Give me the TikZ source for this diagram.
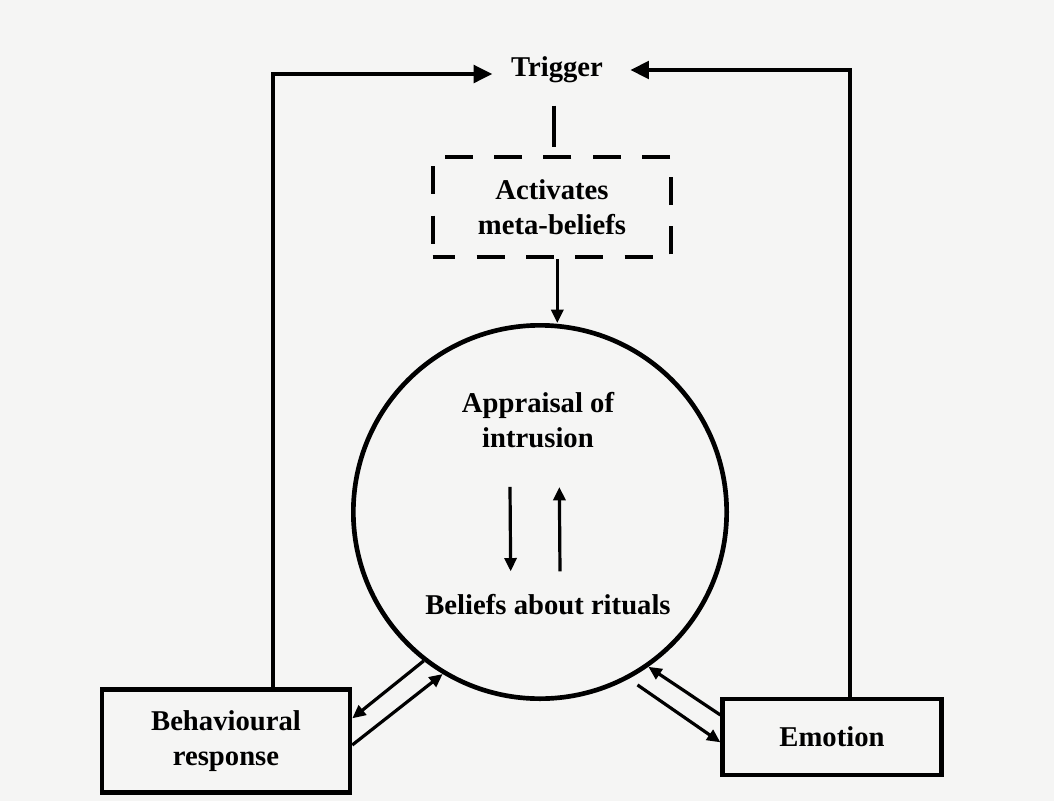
\documentclass[tikz,border=0pt]{standalone}
\usepackage{fontspec}
\setmainfont{Liberation Serif}
\usetikzlibrary{arrows.meta, positioning}
\definecolor{paper}{RGB}{245,245,244}

\begin{document}
\begin{tikzpicture}[
    x=0.75pt, y=-0.75pt,
    txt/.style={font=\bfseries\fontsize{21.5}{26}\selectfont, align=center},
    box/.style={rectangle, draw, line width=3.4pt, txt},
    dashbox/.style={rectangle, draw, line width=3.2pt, dash pattern=on 21pt off 16pt, dash phase=4pt, txt},
    bigcirc/.style={circle, draw, line width=3.5pt, minimum size=280pt, inner sep=0pt},
    arrow/.style={line width=2.4pt, -{Triangle[length=10pt, width=9pt]}},
    bigarrow/.style={line width=3pt, -{Triangle[length=14pt, width=13pt]}}
  ]
    \fill[paper] (0,0) rectangle (1054,801);
    \useasboundingbox (0,0) rectangle (1054,801);

    \node[txt] (trig) at (557,70) {Trigger};
    \node[dashbox, minimum width=179pt, minimum height=75pt] (meta) at (552,207) {Activates\\meta-beliefs};
    \node[bigcirc] (circ) at (540,512) {};
    \node[txt] (appr) at (538,420) {Appraisal of\\intrusion};
    \node[txt] (ritual) at (548,605) {Beliefs about rituals};
    \node[box, minimum width=186pt, minimum height=77pt] (behav) at (226,741) {Behavioural\\response};
    \node[box, minimum width=164pt, minimum height=57pt] (emo) at (832,737) {Emotion};

    % loops back to the trigger
    \draw[bigarrow] ([xshift=35pt]behav.north) |- ([xshift=-10.5pt, yshift=-3pt]trig.west);
    \draw[bigarrow] ([xshift=13.5pt]emo.north) |- ([xshift=17pt, yshift=0pt]trig.east);
    \draw[line width=3pt] ([xshift=1.5pt, yshift=37pt]meta.north) -- ([xshift=1.5pt, yshift=6pt]meta.north);
    \draw[arrow] ([xshift=4pt]meta.south) -- ([xshift=4pt]meta.south |- circ.north);

    % inside the circle
    \draw[arrow] ([xshift=-21pt, yshift=-26pt]appr.south) -- ([xshift=-28pt, yshift=14pt]ritual.north);
    \draw[arrow] ([xshift=9pt, yshift=14pt]ritual.north) -- ([xshift=16pt, yshift=-26pt]appr.south);

    % circle and boxes
    \draw[arrow] (circ.232) -- ([yshift=17pt]behav.east);
    \draw[arrow] ([yshift=-3pt]behav.east) -- (circ.239);
    \draw[arrow] ([yshift=16.5pt]emo.west) -- (circ.305);
    \draw[arrow, shorten <=8pt] (circ.298) -- ([yshift=-4pt]emo.west);
  \end{tikzpicture}
\end{document}
